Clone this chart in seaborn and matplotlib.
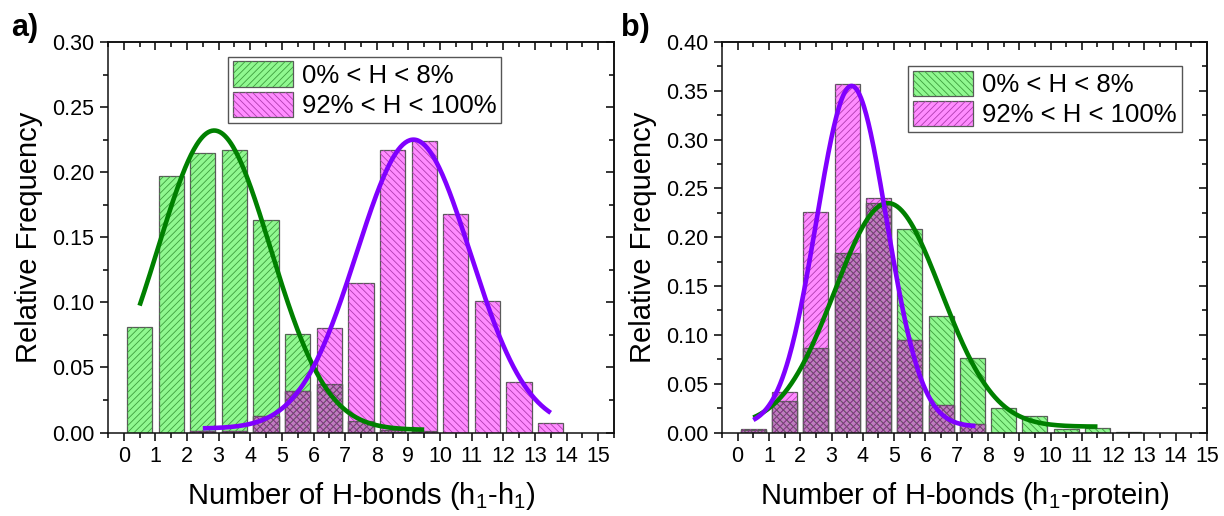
import numpy as np
import pandas as pd
import matplotlib
matplotlib.use("Agg")
import matplotlib.pyplot as plt
from matplotlib.patches import Patch, Rectangle
from matplotlib.legend_handler import HandlerTuple
from matplotlib.ticker import MultipleLocator, FormatStrFormatter
import seaborn as sns

# ---------------------------------------------------------------- data
# lower edges of the unit-width bins of H-bond counts
bin_edges = list(range(15))

series_labels = ["0% < H < 8%", "92% < H < 100%"]

# a) h1-h1 hydrogen bonds
freq_a_low = [0.081, 0.197, 0.215, 0.217, 0.163, 0.076, 0.037, 0.009, 0.002, 0.001,
              0.0, 0.0, 0.0, 0.0, 0.0]
freq_a_high = [0.0, 0.0, 0.0015, 0.0015, 0.013, 0.032, 0.080, 0.115, 0.217, 0.224,
               0.168, 0.101, 0.0385, 0.007, 0.0]

# b) h1-protein hydrogen bonds
freq_b_low = [0.003, 0.032, 0.0865, 0.1835, 0.2355, 0.208, 0.1195, 0.076, 0.0255, 0.0165,
              0.004, 0.0045, 0.0008, 0.0, 0.0]
freq_b_high = [0.0035, 0.041, 0.226, 0.3565, 0.2405, 0.0945, 0.028, 0.0085, 0.0, 0.0,
               0.0, 0.0, 0.0, 0.0, 0.0]

# Gaussian fits: (offset y0, centre xc, sigma, amplitude A, x start, x end)
fit_a_low = (0.002, 2.86, 1.78, 0.230, 0.5, 9.5)
fit_a_high = (0.003, 9.16, 1.80, 0.222, 2.5, 13.5)
fit_b_low = (0.006, 4.80, 1.70, 0.229, 0.5, 11.5)
fit_b_high = (0.006, 3.64, 1.12, 0.349, 0.5, 7.6)

x_label_a = r"Number of H-bonds (h$_\mathregular{1}$-h$_\mathregular{1}$)"
x_label_b = r"Number of H-bonds (h$_\mathregular{1}$-protein)"
y_label = "Relative Frequency"

# ---------------------------------------------------------------- style
sns.set_style("ticks")
plt.rcParams["font.family"] = ["Liberation Sans", "DejaVu Sans"]
plt.rcParams["mathtext.fontset"] = "custom"
plt.rcParams["mathtext.rm"] = "Liberation Sans"
plt.rcParams["mathtext.it"] = "Liberation Sans:italic"
plt.rcParams["hatch.linewidth"] = 0.6
plt.rcParams["axes.linewidth"] = 1.1
for key in ("text.color", "axes.labelcolor", "xtick.color", "ytick.color",
            "axes.edgecolor"):
    plt.rcParams[key] = "black"

GREEN_FACE, GREEN_HATCH = "#90F890", "#3E9E3E"
PINK_FACE, PINK_HATCH = "#FF8CFF", "#B03CB0"
MIX_FACE, MIX_HATCH = "#C07CC0", "#7A3A7A"
EDGE = "#5a5a5a"
GREEN_LINE, PURPLE_LINE = "#008000", "#8000FF"

TICK_FS = 15.5
LABEL_FS = 21
LEGEND_FS = 18.5

fig = plt.figure(figsize=(12.24, 5.16), dpi=100)
ax_a = fig.add_axes([0.0882, 0.1618, 0.4134, 0.7568])
ax_b = fig.add_axes([0.5899, 0.1618, 0.3962, 0.7568])


def hatched_bars(ax, heights, face, hatch_col, hatch):
    df = pd.DataFrame({"x": np.array(bin_edges) + 0.5, "h": heights})
    df = df[df["h"] > 0]
    n0 = len(ax.patches)
    sns.barplot(data=df, x="x", y="h", native_scale=True, width=0.8,
                color=face, saturation=1, edgecolor=EDGE, linewidth=0.9,
                ax=ax, zorder=2)
    for p in list(ax.patches[n0:]):
        ax.add_patch(Rectangle(p.get_xy(), p.get_width(), p.get_height(),
                               fill=False, hatch=hatch, edgecolor=hatch_col,
                               linewidth=0, zorder=2.1))


def gauss_curve(ax, params, color):
    y0, xc, w, amp, x0, x1 = params
    xs = np.linspace(x0, x1, 300)
    ys = y0 + amp * np.exp(-((xs - xc) ** 2) / (2 * w ** 2))
    sns.lineplot(x=xs, y=ys, color=color, linewidth=3.3, ax=ax, sort=False,
                 estimator=None, zorder=4, solid_capstyle="butt")


def decorate(ax, ymax, xmax, xlabel, legend_hatches, legend_anchor):
    ax.set_xlim(-0.5, xmax)
    ax.set_ylim(0, ymax)
    ax.xaxis.set_major_locator(MultipleLocator(1))
    ax.xaxis.set_minor_locator(MultipleLocator(0.5))
    ax.yaxis.set_major_locator(MultipleLocator(0.05))
    ax.yaxis.set_minor_locator(MultipleLocator(0.025))
    ax.yaxis.set_major_formatter(FormatStrFormatter("%.2f"))
    ax.xaxis.set_major_formatter(FormatStrFormatter("%d"))
    ax.tick_params(which="major", direction="out", length=6, width=1.1,
                   labelsize=TICK_FS, pad=4, colors="black")
    ax.tick_params(which="minor", direction="out", length=3.5, width=1.1,
                   colors="black")
    for sp in ax.spines.values():
        sp.set_visible(True)
        sp.set_linewidth(1.1)
        sp.set_color("#111111")
    # mirrored inward ticks on the top and right sides
    top = ax.secondary_xaxis("top")
    top.xaxis.set_major_locator(MultipleLocator(1))
    top.xaxis.set_minor_locator(MultipleLocator(0.5))
    top.tick_params(which="major", direction="in", length=6, width=1.1, labeltop=False)
    top.tick_params(which="minor", direction="in", length=3.5, width=1.1)
    right = ax.secondary_yaxis("right")
    right.yaxis.set_major_locator(MultipleLocator(0.05))
    right.yaxis.set_minor_locator(MultipleLocator(0.025))
    right.tick_params(which="major", direction="in", length=6, width=1.1, labelright=False)
    right.tick_params(which="minor", direction="in", length=3.5, width=1.1)

    ax.set_xlabel(xlabel, fontsize=LABEL_FS, labelpad=9)
    ax.set_ylabel(y_label, fontsize=LABEL_FS, labelpad=6)

    handles = [
        (Patch(facecolor=GREEN_FACE, edgecolor=EDGE, linewidth=0.9),
         Patch(fill=False, hatch=legend_hatches[0], edgecolor=GREEN_HATCH, linewidth=0)),
        (Patch(facecolor=PINK_FACE, edgecolor=EDGE, linewidth=0.9),
         Patch(fill=False, hatch=legend_hatches[1], edgecolor=PINK_HATCH, linewidth=0)),
    ]
    leg = ax.legend(handles, series_labels, loc="upper left",
                    bbox_to_anchor=legend_anchor, fontsize=LEGEND_FS,
                    handler_map={tuple: HandlerTuple(ndivide=1, pad=0)},
                    handlelength=2.35, handleheight=1.13, labelspacing=0.15,
                    handletextpad=0.35, borderpad=0.18, borderaxespad=0,
                    frameon=True, fancybox=False, framealpha=1)
    leg.get_frame().set_edgecolor("#555555")
    leg.get_frame().set_linewidth(1.0)
    leg.set_zorder(10)


# ---------------------------------------------------------------- panel a
overlap_a = np.minimum(freq_a_low, freq_a_high)
hatched_bars(ax_a, freq_a_low, GREEN_FACE, GREEN_HATCH, "/////")
hatched_bars(ax_a, freq_a_high, PINK_FACE, PINK_HATCH, "\\\\\\\\\\")
hatched_bars(ax_a, overlap_a, MIX_FACE, MIX_HATCH, "/////\\\\\\\\\\")
gauss_curve(ax_a, fit_a_low, GREEN_LINE)
gauss_curve(ax_a, fit_a_high, PURPLE_LINE)
decorate(ax_a, 0.30, 15.5, x_label_a, ("/////", "\\\\\\\\\\"), (0.237, 0.962))

# ---------------------------------------------------------------- panel b
overlap_b = np.minimum(freq_b_low, freq_b_high)
hatched_bars(ax_b, freq_b_low, GREEN_FACE, GREEN_HATCH, "\\\\\\\\\\")
hatched_bars(ax_b, freq_b_high, PINK_FACE, PINK_HATCH, "/////")
hatched_bars(ax_b, overlap_b, MIX_FACE, MIX_HATCH, "/////\\\\\\\\\\")
gauss_curve(ax_b, fit_b_low, GREEN_LINE)
gauss_curve(ax_b, fit_b_high, PURPLE_LINE)
decorate(ax_b, 0.40, 15.0, x_label_b, ("\\\\\\\\\\", "/////"), (0.384, 0.938))

fig.text(0.009, 0.945, "a)", fontsize=22, fontweight="bold", va="center", ha="left")
fig.text(0.507, 0.945, "b)", fontsize=22, fontweight="bold", va="center", ha="left")

fig.savefig("out.png", dpi=100)
